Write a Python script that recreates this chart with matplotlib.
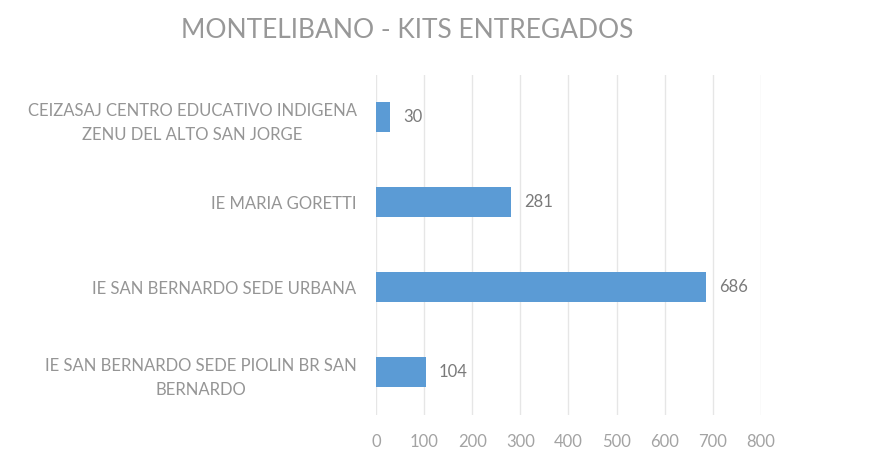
import matplotlib
matplotlib.use("Agg")
import matplotlib.pyplot as plt

categories = [
    "CEIZASAJ CENTRO EDUCATIVO INDIGENA\nZENU DEL ALTO SAN JORGE",
    "IE MARIA GORETTI",
    "IE SAN BERNARDO SEDE URBANA",
    "IE SAN BERNARDO SEDE PIOLIN BR SAN\nBERNARDO",
]
values = [30, 281, 686, 104]
xticks = [0, 100, 200, 300, 400, 500, 600, 700, 800]
title = "MONTELIBANO - KITS ENTREGADOS"

plt.rcParams['font.family'] = ['Lato', 'DejaVu Sans']
text_color = "#959595"
bar_color = "#5b9bd5"

fig = plt.figure(figsize=(8.88, 4.62), dpi=100)
ax = fig.add_axes([0.4234, 0.102, 0.4336, 0.736])

pos = list(range(len(categories)))
ax.barh(pos, values, height=0.35, color=bar_color, zorder=3)
for p, v in zip(pos, values):
    ax.annotate(str(v), xy=(v, p), xytext=(9, 0), textcoords="offset points",
                va="center", ha="left", fontsize=12, color="#7a7a7a")

ax.set_xlim(0, 800)
ax.set_ylim(3.5, -0.5)
ax.set_xticks(xticks)
ax.set_xticklabels([str(t) for t in xticks])
ax.set_yticks(pos)
ax.set_yticklabels(categories, ha="right", multialignment="center", linespacing=1.6)
ax.tick_params(axis="y", length=0, pad=14, labelsize=12, labelcolor=text_color)
ax.tick_params(axis="x", length=0, pad=14, labelsize=12, labelcolor="#a3a3a3")
ax.xaxis.grid(True, color="#e6e6e6", linewidth=1, zorder=0)
for s in ax.spines.values():
    s.set_visible(False)

fig.text(0.458, 0.935, title, ha="center", va="center", fontsize=19, color="#989898")

fig.savefig("out.png", dpi=100)
